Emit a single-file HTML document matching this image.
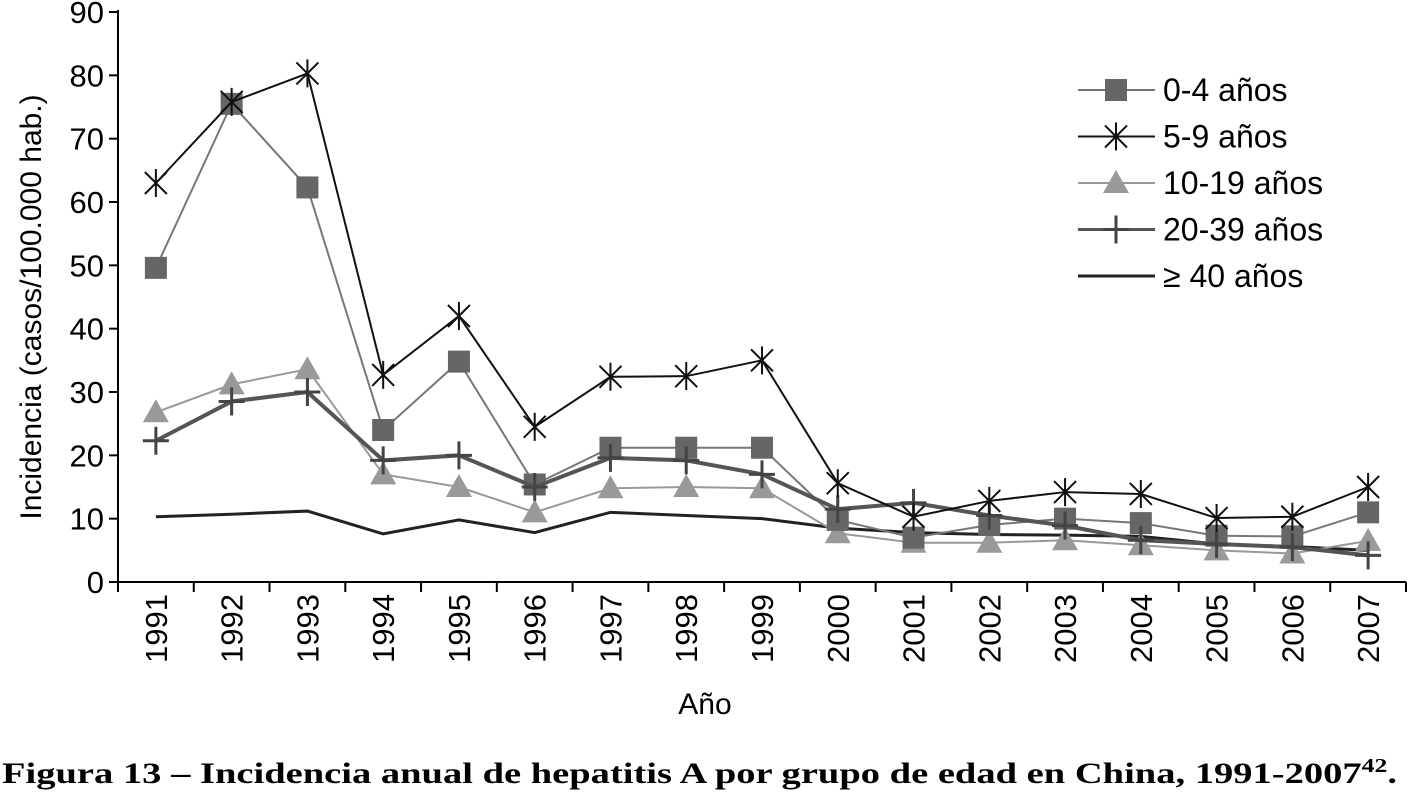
<!DOCTYPE html>
<html><head><meta charset="utf-8"><style>
body{margin:0;background:#fff;}
svg{display:block;}
</style></head><body>
<svg id="chart" width="1416" height="793" font-family="Liberation Sans, sans-serif"></svg>
<script>
const years=["1991","1992","1993","1994","1995","1996","1997","1998","1999","2000","2001","2002","2003","2004","2005","2006","2007"];
const s04=[49.6,75.5,62.3,24,34.8,15.4,21.2,21.2,21.2,9.8,7,9,10,9.3,7.3,7.2,11];
const s59=[63,75.8,80.3,32.7,42,24.5,32.4,32.5,35,15.6,10.3,12.8,14.2,13.9,10.1,10.3,15];
const s1019=[26.8,31.2,33.6,17,15,11,14.8,15,14.8,7.7,6.2,6.2,6.6,5.8,5,4.5,6.5];
const s2039=[22.3,28.5,30,19.2,20,15,19.6,19.2,17,11.5,12.5,10.5,8.9,6.6,6,5.5,4.2];
const s40=[10.3,10.7,11.2,7.6,9.8,7.8,11,10.5,10,8.5,7.8,7.5,7.4,7.2,6,5.6,5];
const yTicks=[0,10,20,30,40,50,60,70,80,90];
const NS="http://www.w3.org/2000/svg";
const svg=document.getElementById('chart');
const X0=118,X1=1406,Y0=582,YT=12;
const bw=(X1-X0)/years.length;
const xs=i=>X0+bw*(i+0.5);
const ys=v=>Y0-(v/90)*(Y0-YT);
function el(t,a,p){const e=document.createElementNS(NS,t);for(const k in a)e.setAttribute(k,a[k]);(p||svg).appendChild(e);return e;}
let a=el('line',{x1:X0,y1:YT-2,x2:X0,y2:Y0,stroke:'#000','stroke-width':2});


a=el('line',{x1:X0,y1:Y0,x2:X1,y2:Y0,stroke:'#000','stroke-width':2});


yTicks.forEach(v=>{
 el('line',{x1:X0-9,y1:ys(v),x2:X0,y2:ys(v),stroke:'#000','stroke-width':2});
 const t=el('text',{x:X0-14,y:ys(v)+11,'text-anchor':'end','font-size':31});
 t.textContent=v;
 
 
});
for(let i=0;i<=years.length;i++){el('line',{x1:X0+bw*i,y1:Y0,x2:X0+bw*i,y2:Y0+10,stroke:'#000','stroke-width':2});}
years.forEach((y,i)=>{
 const t=el('text',{x:0,y:0,'text-anchor':'end','font-size':31,transform:`translate(${xs(i)+11},${Y0+12}) rotate(-90)`});
 t.textContent=y;
 
 
});
let t=el('text',{x:0,y:0,'text-anchor':'middle','font-size':30,transform:`translate(41,${(Y0+YT)/2+10}) rotate(-90)`});
t.textContent='Incidencia (casos/100.000 hab.)';


t=el('text',{x:705,y:714,'text-anchor':'middle','font-size':30});
t.textContent='Año';


t=el('text',{x:2,y:783,'font-size':30,'font-weight':'bold','font-family':'Liberation Serif, serif',textLength:1395,lengthAdjust:'spacingAndGlyphs'});
t.innerHTML='Figura 13 – Incidencia anual de hepatitis A por grupo de edad en China, 1991-2007<tspan dy="-11" font-size="20">42</tspan><tspan dy="11">.</tspan>';


function marker(kind,x,y,g){
 if(kind==='sq')el('rect',{x:x-11,y:y-11,width:22,height:22,fill:'#666'},g);
 else if(kind==='tri')el('polygon',{points:`${x},${y-13} ${x-13},${y+10} ${x+13},${y+10}`,fill:'#999'},g);
 else if(kind==='star'){el('path',{d:`M${x-11},${y-11}L${x+11},${y+11}M${x+11},${y-11}L${x-11},${y+11}M${x},${y-14}L${x},${y+14}`,stroke:'#111','stroke-width':2},g);}
 else if(kind==='plus'){el('path',{d:`M${x-13},${y}L${x+13},${y}M${x},${y-14}L${x},${y+14}`,stroke:'#444','stroke-width':3},g);}
}
const series=[
 {name:'series-40-plus',d:s40,c:'#222',w:3,m:null},
 {name:'series-10-19',d:s1019,c:'#999',w:2,m:'tri'},
 {name:'series-0-4',d:s04,c:'#777',w:2,m:'sq'},
 {name:'series-20-39',d:s2039,c:'#555',w:4,m:'plus'},
 {name:'series-5-9',d:s59,c:'#111',w:2,m:'star'}
];
series.forEach(s=>{
 const g=el('g',{});
 
 
 el('polyline',{points:s.d.map((v,i)=>xs(i)+','+ys(v)).join(' '),fill:'none',stroke:s.c,'stroke-width':s.w},g);
 if(s.m)s.d.forEach((v,i)=>marker(s.m,xs(i),ys(v),g));
});
const leg=[['sq','#777',2,'0-4 años'],['star','#111',2,'5-9 años'],['tri','#999',2,'10-19 años'],['plus','#555',3,'20-39 años'],[null,'#222',3,'≥ 40 años']];
leg.forEach((l,i)=>{
 const y=90+i*46.5;
 const g=el('g',{});
 
 
 el('line',{x1:1078,y1:y,x2:1155,y2:y,stroke:l[1],'stroke-width':l[2]},g);
 if(l[0])marker(l[0],1116,y,g);
 const tx=el('text',{x:1163,y:y+11,'font-size':32},g);
 tx.textContent=l[3];
});
</script>
</body></html>
